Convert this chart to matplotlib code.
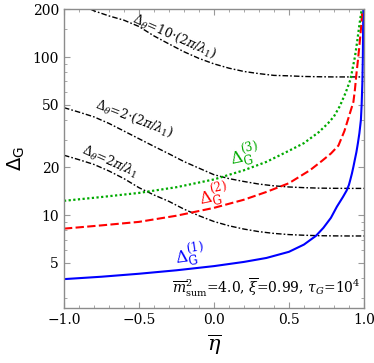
import numpy as np
import matplotlib
matplotlib.use("Agg")
import matplotlib.pyplot as plt
from matplotlib.ticker import FixedLocator, NullFormatter

plt.rcParams['font.family'] = 'DejaVu Serif'
plt.rcParams['mathtext.fontset'] = 'dejavuserif'

# values
eta_blue = [-1.0, -0.75, -0.5, -0.25, 0.0, 0.2, 0.35, 0.5, 0.6, 0.68, 0.73, 0.78,
            0.82, 0.86, 0.885, 0.9, 0.91, 0.92, 0.93, 0.94, 0.95, 0.96, 0.97,
            0.98, 0.985, 0.99, 0.993, 0.996]
dG1 = [3.93, 4.07, 4.25, 4.47, 4.75, 5.05, 5.35, 5.85, 6.5, 7.38, 8.3, 9.6,
       11.3, 13.0, 14.3, 15.5, 16.8, 18.3, 20.2, 22.5, 25.0, 28.5, 33.0,
       40.0, 50.0, 70.0, 100.0, 200.0]

eta_red = [-1.0, -0.75, -0.5, -0.25, 0.0, 0.2, 0.35, 0.5, 0.64, 0.72, 0.78, 0.83,
           0.87, 0.9, 0.93, 0.94, 0.95, 0.96, 0.97, 0.98, 0.99]
dG2 = [8.2, 8.6, 9.05, 9.9, 11.1, 12.5, 14.0, 15.9, 19.2, 22.0, 24.5, 27.5,
       34.0, 42.0, 52.0, 62.0, 78.0, 95.0, 118.0, 150.0, 200.0]

eta_green = [-1.0, -0.75, -0.5, -0.25, 0.0, 0.2, 0.35, 0.5, 0.6, 0.7, 0.76, 0.8,
             0.84, 0.88, 0.91, 0.94, 0.955, 0.97, 0.985]
dG3 = [12.3, 13.0, 13.8, 15.0, 16.8, 19.2, 21.7, 25.5, 28.5, 33.5, 38.0, 42.0,
       49.0, 60.0, 72.0, 100.0, 125.0, 160.0, 200.0]

eta_dd = [-1.0, -0.9, -0.8, -0.7, -0.6, -0.5, -0.4, -0.3, -0.2, -0.1, 0.0,
          0.1, 0.2, 0.3, 0.4, 0.5, 0.6, 0.7, 0.8, 0.9, 1.0]
theta_1 = [23.9, 22.4, 20.9, 19.0, 17.0, 14.9, 13.4, 12.2, 10.9, 9.9, 9.1,
           8.55, 8.15, 7.85, 7.65, 7.52, 7.45, 7.4, 7.38, 7.37, 7.37]
theta_2 = [47.8, 44.8, 41.8, 38.0, 34.0, 30.4, 27.2, 24.4, 21.8, 19.8, 18.0,
           17.0, 16.3, 15.7, 15.3, 15.05, 14.9, 14.8, 14.76, 14.74, 14.74]
theta_10 = [245, 218, 196, 182, 171, 156, 136, 121, 108, 98, 90.5,
            85, 81, 78.5, 76.5, 76, 75.3, 75, 74.8, 74.8, 74.8]

yticks = [5, 10, 20, 50, 100, 200]
yminor = [3, 4, 6, 7, 8, 9, 30, 40, 60, 70, 80, 90, 150]
xticks = [-1.0, -0.5, 0.0, 0.5, 1.0]

fig = plt.figure(figsize=(3.74, 3.63), dpi=100)
ax = fig.add_axes([0.171, 0.1515, 0.802, 0.8225])

dd = dict(color='black', lw=1.0, dashes=(4, 1.5, 1.2, 1.5))
ax.plot(eta_dd, theta_10, **dd)
ax.plot(eta_dd, theta_2, **dd)
ax.plot(eta_dd, theta_1, **dd)
ax.plot(eta_blue, dG1, color='#0000ff', lw=1.5)
ax.plot(eta_red, dG2, color='#ff0000', lw=1.5, dashes=(4, 1.6))
ax.plot(eta_green, dG3, color='#00aa00', lw=1.6, dashes=(1, 1.1))

ax.set_yscale('log')
ax.set_xlim(-1.0, 1.0)
ax.set_ylim(2.58, 200)

ax.yaxis.set_major_locator(FixedLocator(yticks))
ax.yaxis.set_minor_locator(FixedLocator(yminor))
ax.yaxis.set_minor_formatter(NullFormatter())
ax.set_yticklabels([str(t) for t in yticks])
ax.set_xticks(xticks)
ax.set_xticklabels(['\u22121.0', '\u22120.5', '0.0', '0.5', '1.0'])
ax.xaxis.set_minor_locator(FixedLocator(np.arange(-1.0, 1.01, 0.1)))

ax.tick_params(which='both', direction='in', top=True, right=True,
               color='#999999', labelsize=10)
ax.tick_params(which='major', length=4.5, width=0.8)
ax.tick_params(which='minor', length=2.5, width=0.6)
for s in ax.spines.values():
    s.set_color('#8c8c8c')
    s.set_linewidth(1.0)

ax.set_ylabel(r'$\mathsf{\Delta_G}$', fontsize=14, labelpad=4)
ax.set_xlabel(r'$\overline{\eta}$', fontsize=15, labelpad=4)

# labels sitting on the dash-dot lines
ax.text(-0.27, 129, r'$\Delta_\theta$=10$\cdot$(2$\pi$/$\lambda_1$)', fontsize=9,
        rotation=-24, ha='center', va='baseline', rotation_mode='anchor')
ax.text(-0.54, 38.6, r'$\Delta_\theta$=2$\cdot$(2$\pi$/$\lambda_1$)', fontsize=9,
        rotation=-21, ha='center', va='baseline', rotation_mode='anchor')
ax.text(-0.703, 20.6, r'$\Delta_\theta$=2$\pi$/$\lambda_1$', fontsize=9,
        rotation=-24, ha='center', va='baseline', rotation_mode='anchor')

ax.text(-0.16, 5.6, r'$\Delta_{\mathrm{G}}^{(1)}$', color='#0000ff', fontsize=12,
        rotation=8, ha='center', va='center', rotation_mode='anchor')
ax.text(-0.003, 13.3, r'$\Delta_{\mathrm{G}}^{(2)}$', color='#ff0000', fontsize=12,
        rotation=12, ha='center', va='center', rotation_mode='anchor')
ax.text(0.203, 23.9, r'$\Delta_{\mathrm{G}}^{(3)}$', color='#00aa00', fontsize=12,
        rotation=12, ha='center', va='center', rotation_mode='anchor')

ax.text(0.99, 0.03, r'$\overline{m}^2_{\mathrm{sum}}$=4.0, $\overline{\xi}$=0.99, $\tau_G$=10$^4$',
        transform=ax.transAxes, ha='right', va='bottom', fontsize=10)

fig.savefig('out.png', dpi=100)
